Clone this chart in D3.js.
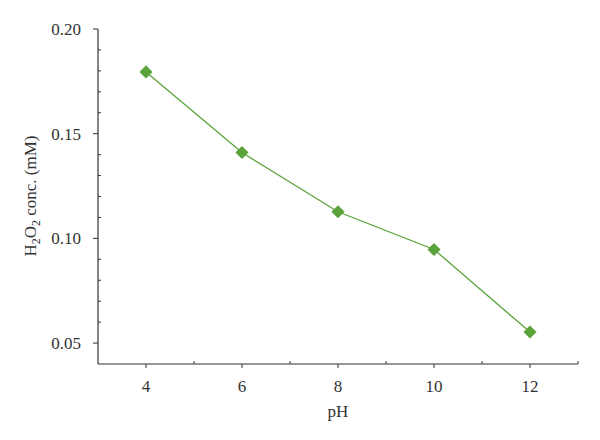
<!DOCTYPE html>
<html><head><meta charset="utf-8">
<script src="https://cdn.jsdelivr.net/npm/d3@7"></script>
<style>body{margin:0;background:#fff}svg{display:block}text{font-family:"Liberation Serif","DejaVu Serif",serif;fill:#333}</style>
</head><body><svg id="c" width="600" height="440"></svg>
<script>
const pH = [4, 6, 8, 10, 12];
const conc = [0.1795, 0.141, 0.1127, 0.0947, 0.0553];
const yMajorTicks = [0.05, 0.10, 0.15, 0.20];
const xMajorTicks = [4, 6, 8, 10, 12];

const svg = d3.select("#c");
const x = d3.scaleLinear().domain([3, 13]).range([98, 578]);
const y = d3.scaleLinear().domain([0.04, 0.20]).range([364, 29]);
const axisColor = "#333";
const green = "#5aa33a";

// y axis
const gy = svg.append("g");
gy.append("line").attr("x1", 98).attr("x2", 98).attr("y1", y(0.20)).attr("y2", y(0.04)).attr("stroke", axisColor).attr("stroke-width", 1.2);
const yMinor = d3.range(0.05, 0.2001, 0.01).filter(v => !yMajorTicks.some(m => Math.abs(m - v) < 1e-6));
gy.selectAll(".ymin").data(yMinor).join("line").attr("x1", 98).attr("x2", 101).attr("y1", d => y(d)).attr("y2", d => y(d)).attr("stroke", axisColor);
gy.selectAll(".ymaj").data(yMajorTicks).join("line").attr("x1", 93).attr("x2", 98).attr("y1", d => y(d)).attr("y2", d => y(d)).attr("stroke", axisColor);
gy.selectAll(".ylab").data(yMajorTicks).join("text").attr("x", 81).attr("y", d => y(d)).attr("dy", "0.35em").attr("text-anchor", "end").attr("font-size", 17).text(d => d3.format(".2f")(d));

// x axis
const gx = svg.append("g");
gx.append("line").attr("x1", x(3)).attr("x2", x(13)).attr("y1", 364).attr("y2", 364).attr("stroke", axisColor).attr("stroke-width", 1.2);
const xMinor = [5, 7, 9, 11, 13];
gx.selectAll(".xmin").data(xMinor).join("line").attr("x1", d => x(d)).attr("x2", d => x(d)).attr("y1", 361).attr("y2", 364).attr("stroke", axisColor);
gx.selectAll(".xmaj").data(xMajorTicks).join("line").attr("x1", d => x(d)).attr("x2", d => x(d)).attr("y1", 364).attr("y2", 368).attr("stroke", axisColor);
gx.selectAll(".xlab").data(xMajorTicks).join("text").attr("x", d => x(d)).attr("y", 392).attr("text-anchor", "middle").attr("font-size", 17).text(d => d);

svg.append("text").attr("x", x(8)).attr("y", 417).attr("text-anchor", "middle").attr("font-size", 17).text("pH");

const yl = svg.append("text").attr("transform", "translate(36,196) rotate(-90)").attr("text-anchor", "middle").attr("font-size", 17);
yl.append("tspan").text("H");
yl.append("tspan").attr("font-size", 12).attr("dy", 4).text("2");
yl.append("tspan").attr("dy", -4).text("O");
yl.append("tspan").attr("font-size", 12).attr("dy", 4).text("2");
yl.append("tspan").attr("dy", -4).text(" conc. (mM)");

// line
const data = pH.map((p, i) => ({p, c: conc[i]}));
svg.append("path").datum(data).attr("fill", "none").attr("stroke", green).attr("stroke-width", 1.3)
  .attr("d", d3.line().x(d => x(d.p)).y(d => y(d.c)));
svg.selectAll(".pt").data(data).join("path")
  .attr("transform", d => `translate(${x(d.p)},${y(d.c)})`)
  .attr("d", d3.symbol().type(d3.symbolDiamond2).size(110)).attr("fill", green);
</script></body></html>
